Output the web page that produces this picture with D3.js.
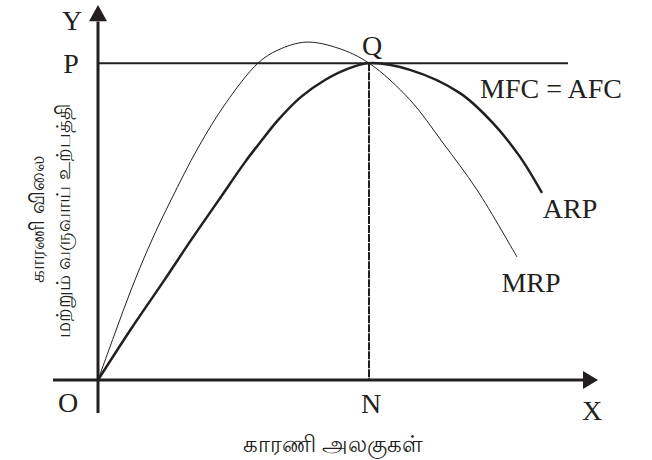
<!DOCTYPE html>
<html>
<meta charset="utf-8">
<head>
  <style>
    body { margin: 0; background: #fff; }
    .lbl { font-family: "Liberation Serif", "Times New Roman", serif; font-size: 28px; fill: #231f20; }
    .tamil { font-family: "Noto Sans", sans-serif; font-size: 20px; fill: #231f20; }
  </style>
  <script src="https://d3js.org/d3.v7.min.js"></script>
</head>
<body>
<svg id="chart" width="652" height="460"></svg>
<script>
  // values (x: factor units, y: price / revenue product, both 0..100)
  var arpUnits  = [0, 6.6, 13.4, 18.6, 24, 29.4, 32.8, 36, 40.6, 45.4, 49.8, 54.2, 62.4, 72.4, 79, 84.4, 88.8];
  var arpValues = [0, 13.6, 26.9, 37.3, 47.7, 58.1, 64, 69.3, 75.5, 80, 82.9, 84.5, 82.7, 76.5, 68.5, 59.5, 49.9];
  var mrpUnits  = [0, 3.4, 6.6, 10.6, 14.6, 20, 25.6, 32, 36, 41.6, 48, 54.2, 62.4, 69, 75.8, 83.8];
  var mrpValues = [0, 12.5, 24, 36.8, 48, 61.9, 73.9, 84.5, 88, 90.1, 88.5, 84.5, 74.7, 63.2, 50.7, 32.8];
  var factorPrice = 84.5;       // P, MFC = AFC
  var equilibriumUnits = 54.2;  // N
  var priceLineEnd = 94;
  var curveNames = ["ARP", "MRP", "MFC = AFC"];
  var yTitle = ["காரணி விலை", "மற்றும் வருவாய் உற்பத்தி"];
  var xTitle = "காரணி அலகுகள்";

  var svg = d3.select("#chart");
  var x = d3.scaleLinear().domain([0, 100]).range([98, 598]);
  var y = d3.scaleLinear().domain([0, 100]).range([380, 5]);
  var ink = "#231f20";

  // axes
  svg.append("line").attr("x1", x(-9)).attr("x2", x(97.2)).attr("y1", y(0)).attr("y2", y(0))
    .attr("stroke", ink).attr("stroke-width", 3);
  svg.append("line").attr("x1", x(0)).attr("x2", x(0)).attr("y1", y(-8.8)).attr("y2", y(95.6))
    .attr("stroke", ink).attr("stroke-width", 3);
  // arrow heads
  svg.append("path").attr("fill", ink)
    .attr("d", "M" + x(100) + "," + y(0) + "L" + x(97) + "," + (y(0) - 9) + "L" + x(97) + "," + (y(0) + 9) + "Z");
  svg.append("path").attr("fill", ink)
    .attr("d", "M" + x(0) + "," + y(100) + "L" + (x(0) - 9) + "," + y(95.7) + "L" + (x(0) + 9) + "," + y(95.7) + "Z");

  // MFC = AFC line
  svg.append("line").attr("x1", x(0)).attr("x2", x(priceLineEnd))
    .attr("y1", y(factorPrice)).attr("y2", y(factorPrice))
    .attr("stroke", ink).attr("stroke-width", 2);

  // QN
  svg.append("line").attr("x1", x(equilibriumUnits)).attr("x2", x(equilibriumUnits))
    .attr("y1", y(factorPrice)).attr("y2", y(0))
    .attr("stroke", ink).attr("stroke-width", 2).attr("stroke-dasharray", "8,1");

  var line = d3.line().x(function(d){ return x(d[0]); }).y(function(d){ return y(d[1]); })
    .curve(d3.curveCatmullRom.alpha(0.5));

  svg.append("path").datum(d3.zip(mrpUnits, mrpValues)).attr("d", line)
    .attr("fill", "none").attr("stroke", ink).attr("stroke-width", 1);
  svg.append("path").datum(d3.zip(arpUnits, arpValues)).attr("d", line)
    .attr("fill", "none").attr("stroke", ink).attr("stroke-width", 2.5);

  // letters
  function label(t, px, py) {
    svg.append("text").attr("class", "lbl").attr("x", px).attr("y", py)
      .attr("text-anchor", "middle").text(t);
  }
  label("Y", x(0) - 26, 30);
  label("P", x(0) - 27, y(factorPrice) + 10);
  label("Q", x(equilibriumUnits) + 3, y(factorPrice) - 8);
  label("O", x(0) - 30, y(0) + 32);
  label("N", x(equilibriumUnits) + 2, y(0) + 33);
  label("X", x(98.8), y(0) + 40);
  label(curveNames[0], x(arpUnits[arpUnits.length - 1]) + 28, 218);
  label(curveNames[1], x(mrpUnits[mrpUnits.length - 1]) + 14, 292);
  label(curveNames[2], 551, y(factorPrice) + 35);

  // axis titles
  svg.append("text").attr("class", "tamil").attr("text-anchor", "middle")
    .attr("dominant-baseline", "central")
    .attr("transform", "translate(36,219) rotate(-90)").text(yTitle[0]);
  svg.append("text").attr("class", "tamil").attr("text-anchor", "middle")
    .attr("dominant-baseline", "central")
    .attr("transform", "translate(62,221) rotate(-90)").text(yTitle[1]);
  svg.append("text").attr("class", "tamil").attr("text-anchor", "middle")
    .style("font-size", "23px")
    .attr("x", 333).attr("y", 452).text(xTitle);
</script>
</body>
</html>
